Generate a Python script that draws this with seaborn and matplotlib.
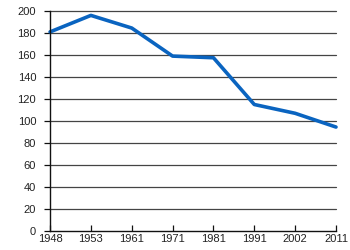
import matplotlib
matplotlib.use("Agg")
import matplotlib.pyplot as plt
import seaborn as sns
import pandas as pd

years = ["1948", "1953", "1961", "1971", "1981", "1991", "2002", "2011"]
values = [181, 196, 184.5, 159, 157.5, 115, 107, 94.5]
yticks = [0, 20, 40, 60, 80, 100, 120, 140, 160, 180, 200]

sns.set_style("white")
plt.rcParams['font.family'] = ['Liberation Sans', 'DejaVu Sans']

df = pd.DataFrame({"year": years, "value": values})
fig = plt.figure(figsize=(3.5, 2.5), dpi=100)
ax = fig.add_axes([0.143, 0.076, 0.817, 0.88])
sns.lineplot(data=df, x="year", y="value", ax=ax, color="#0a64c0", linewidth=2.6, sort=False)
ax.set_ylim(0, 200)
ax.set_xlim(0, len(years) - 1)
ax.set_yticks(yticks)
ax.set_xlabel("")
ax.set_ylabel("")
for y in yticks[1:]:
    ax.axhline(y, color="#444444", linewidth=0.9, zorder=0)
for s in ["top", "right"]:
    ax.spines[s].set_visible(False)
for s in ["left", "bottom"]:
    ax.spines[s].set_color("#111111")
    ax.spines[s].set_linewidth(1.0)
ax.tick_params(axis="y", left=True, length=4, width=0.9, color="#111111", labelsize=8, pad=6, labelcolor="#222222")
ax.tick_params(axis="x", bottom=True, direction="in", length=4, width=0.9, color="#111111", labelsize=8, pad=2, labelcolor="#222222")
for line in ax.lines:
    line.set_clip_on(False)
fig.savefig("out.png", dpi=100)
